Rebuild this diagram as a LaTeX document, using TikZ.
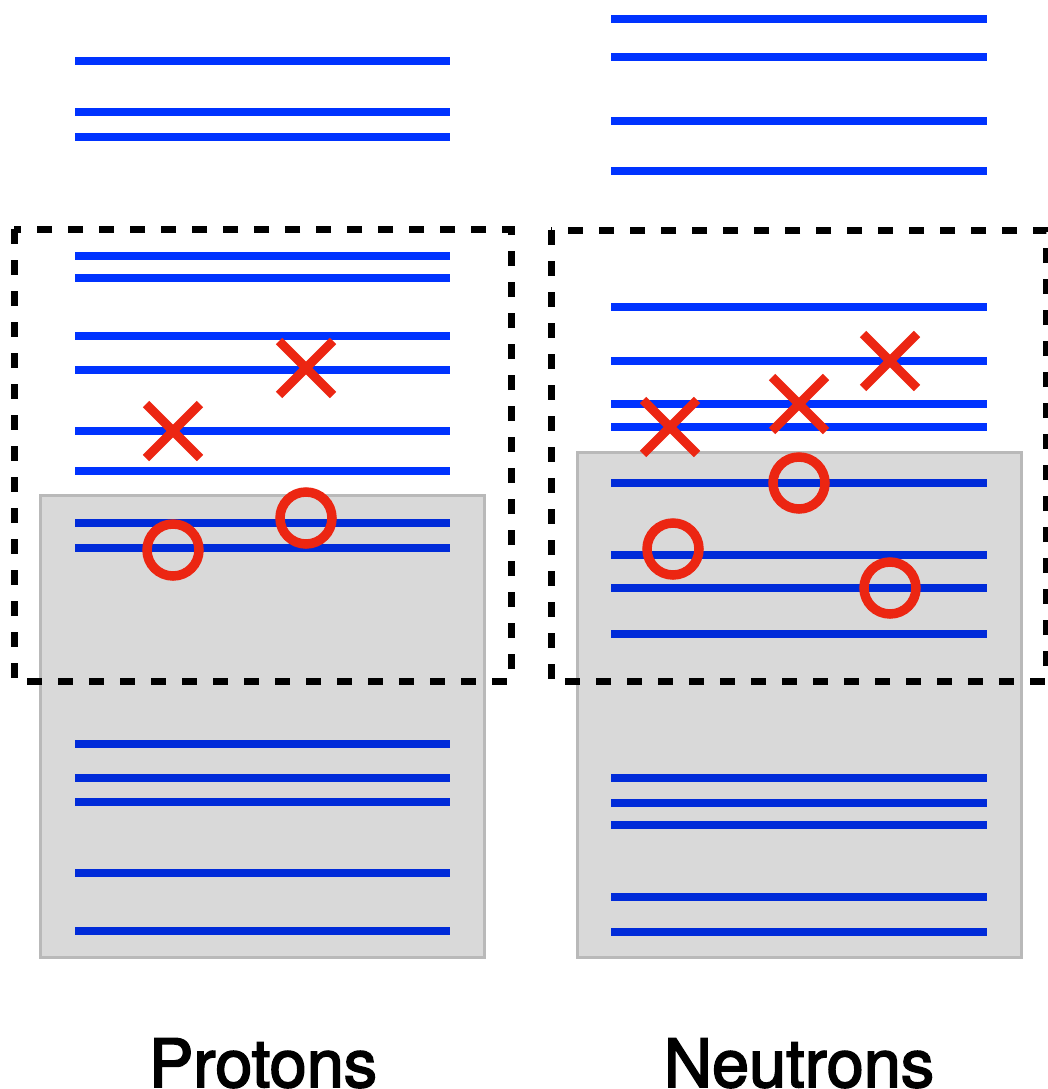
\documentclass[tikz,border=0pt]{standalone}
\usepackage{fontspec}
\setmainfont{TeX Gyre Heros}
\newfontfamily\labelfont{TeX Gyre Heros}[FakeBold=2.5]
\definecolor{levelblue}{RGB}{0,51,255}
\definecolor{holered}{RGB}{236,38,18}
\definecolor{boxedge}{RGB}{185,185,185}
\tikzset{
  level/.style={draw=levelblue, line width=8pt},
  corebox/.style={fill=black, fill opacity=0.15, draw=boxedge, draw opacity=1, line width=3pt},
  window/.style={draw=black, line width=7pt, dash pattern=on 15pt off 16pt},
  particle/.style={draw=holered, line width=9pt},
  hole/.style={draw=holered, line width=9.5pt},
  label/.style={font=\labelfont\fontsize{66.7}{80}\selectfont, anchor=base, inner sep=0pt}
}
\begin{document}
\begin{tikzpicture}[x=1pt, y=-1pt]
\useasboundingbox (0,0) rectangle (1048,1089);

% proton single-particle levels
\foreach \y in {61,112,137,256,278,336,370,431,471,523,548,744,778,802,873,931}
  \draw[level] (75,\y) -- (450,\y);
% neutron single-particle levels
\foreach \y in {19,57,121,171,307,361,404,427,483,555,588,634,778,803,825,897,932}
  \draw[level] (611,\y) -- (987,\y);

% filled cores
\draw[corebox] (40,495) rectangle (484,957);
\draw[corebox] (577,452) rectangle (1021,957);

% particles (crosses) and holes (circles)
\foreach \cx/\cy in {173/431, 306/368, 670/427, 799/404, 890/361} {
  \draw[particle] (\cx-27,\cy-27) -- (\cx+27,\cy+27);
  \draw[particle] (\cx-27,\cy+27) -- (\cx+27,\cy-27);
}
\foreach \cx/\cy in {173/550, 306/518, 673/549, 799/483, 890/588}
  \draw[hole] (\cx,\cy) circle (26);

% valence windows
\draw[window] (14,229) rectangle (511,681);
\draw[window] (551,230) rectangle (1046,681);

% labels
\node[label] (protons) at (263,1087) {Protons};
\node[label] (neutrons) at (799,1087) {Neutrons};
\end{tikzpicture}
\end{document}
